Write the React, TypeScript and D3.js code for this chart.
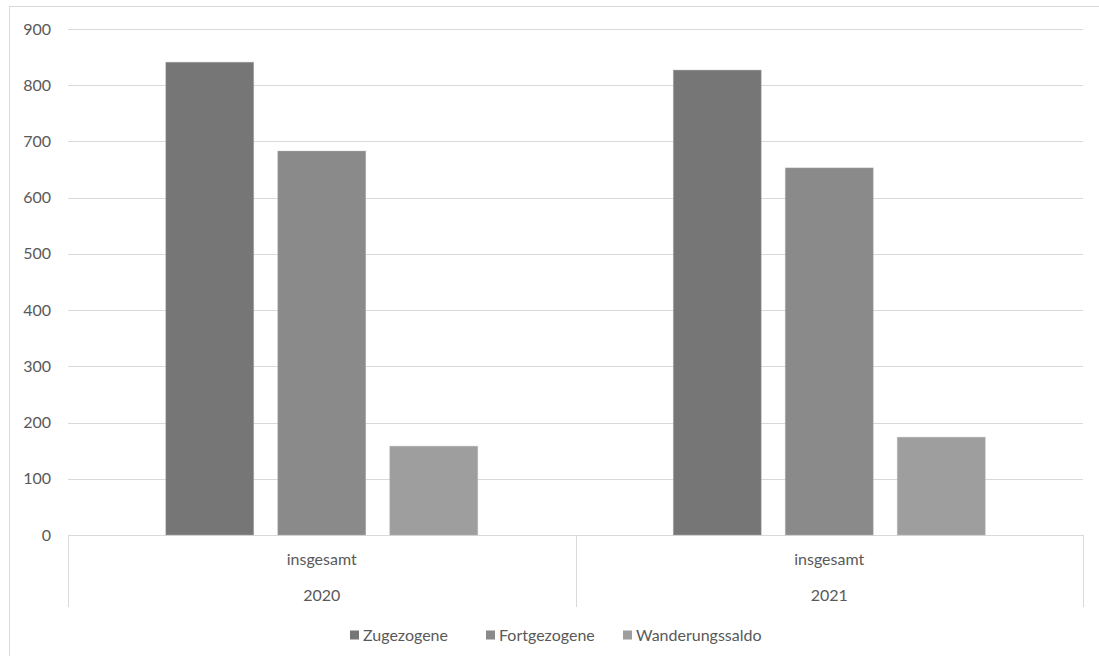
import React from "react";
import * as d3 from "d3";

const categories = ["2020", "2021"];
const subLabels = ["insgesamt", "insgesamt"];
const series = ["Zugezogene", "Fortgezogene", "Wanderungssaldo"];
const zugezogene = [841, 827];
const fortgezogene = [683, 653];
const wanderungssaldo = [158, 174];
const yTicks = [0, 100, 200, 300, 400, 500, 600, 700, 800, 900];
const colors = ["#767676", "#8a8a8a", "#9e9e9e"];

const W = 1099;
const H = 656;
const plot = { left: 68, right: 1083, top: 29, bottom: 535 };
const axisBottom = 607;
const FONT = "Lato, 'Open Sans', sans-serif";
const FS = 16;
const TEXT = "#595959";
const GRID = "#d9d9d9";

export default function App() {
  const values = [zugezogene, fortgezogene, wanderungssaldo];
  const y = d3.scaleLinear().domain([0, 900]).range([plot.bottom, plot.top]);
  const x0 = d3.scaleBand().domain(categories).range([plot.left, plot.right]).padding(0);
  const x1 = d3
    .scaleBand()
    .domain(series)
    .range([0, x0.bandwidth()])
    .paddingInner(0.2143)
    .paddingOuter(0.8728);

  const legendItems = [
    { name: series[0], x: 350 },
    { name: series[1], x: 486 },
    { name: series[2], x: 623 },
  ];

  return (
    <svg
      width={W}
      height={H}
      style={{ position: "absolute", left: 0, top: 0, background: "#fff" }}
      fontFamily={FONT}
    >
      {/* chart frame */}
      <line x1={9.5} x2={9.5} y1={6} y2={H} stroke={GRID} strokeWidth={1} />
      <line x1={9} x2={W} y1={6.5} y2={6.5} stroke={GRID} strokeWidth={1} />

      {/* gridlines */}
      {yTicks.map((t) => (
        <line
          key={"g" + t}
          x1={plot.left}
          x2={plot.right}
          y1={Math.round(y(t)) + 0.5}
          y2={Math.round(y(t)) + 0.5}
          stroke={GRID}
          strokeWidth={1}
        />
      ))}

      {/* y tick labels */}
      {yTicks.map((t) => (
        <text
          key={"t" + t}
          x={51}
          y={y(t)}
          dy="0.35em"
          textAnchor="end"
          fontSize={FS}
          fill={TEXT}
        >
          {t}
        </text>
      ))}

      {/* category axis boxes */}
      {[plot.left, ...categories.map((c) => (x0(c) as number) + x0.bandwidth())].map((xx, i) => (
        <line
          key={"v" + i}
          x1={Math.round(xx) + 0.5}
          x2={Math.round(xx) + 0.5}
          y1={plot.bottom}
          y2={axisBottom}
          stroke={GRID}
          strokeWidth={1}
        />
      ))}

      {/* bars */}
      {series.map((s, si) =>
        categories.map((c, ci) => {
          const bx = (x0(c) as number) + (x1(s) as number);
          const v = values[si][ci];
          return (
            <rect
              key={s + c}
              x={bx}
              y={y(v)}
              width={x1.bandwidth()}
              height={y(0) - y(v)}
              fill={colors[si]}
              stroke="#b8b8b8"
              strokeOpacity={0.5}
              strokeWidth={0.8}
            />
          );
        })
      )}

      {/* category labels */}
      {categories.map((c, ci) => {
        const cx = (x0(c) as number) + x0.bandwidth() / 2;
        return (
          <g key={"c" + c}>
            <text x={cx} y={559} dy="0.35em" textAnchor="middle" fontSize={FS} fill={TEXT}>
              {subLabels[ci]}
            </text>
            <text x={cx} y={595} dy="0.35em" textAnchor="middle" fontSize={FS} fill={TEXT}>
              {c}
            </text>
          </g>
        );
      })}

      {/* legend */}
      {legendItems.map((it, i) => (
        <g key={"l" + it.name}>
          <rect x={it.x} y={630.5} width={9} height={9} fill={colors[i]} />
          <text x={it.x + 13} y={635} dy="0.35em" fontSize={FS} fill={TEXT}>
            {it.name}
          </text>
        </g>
      ))}
    </svg>
  );
}
